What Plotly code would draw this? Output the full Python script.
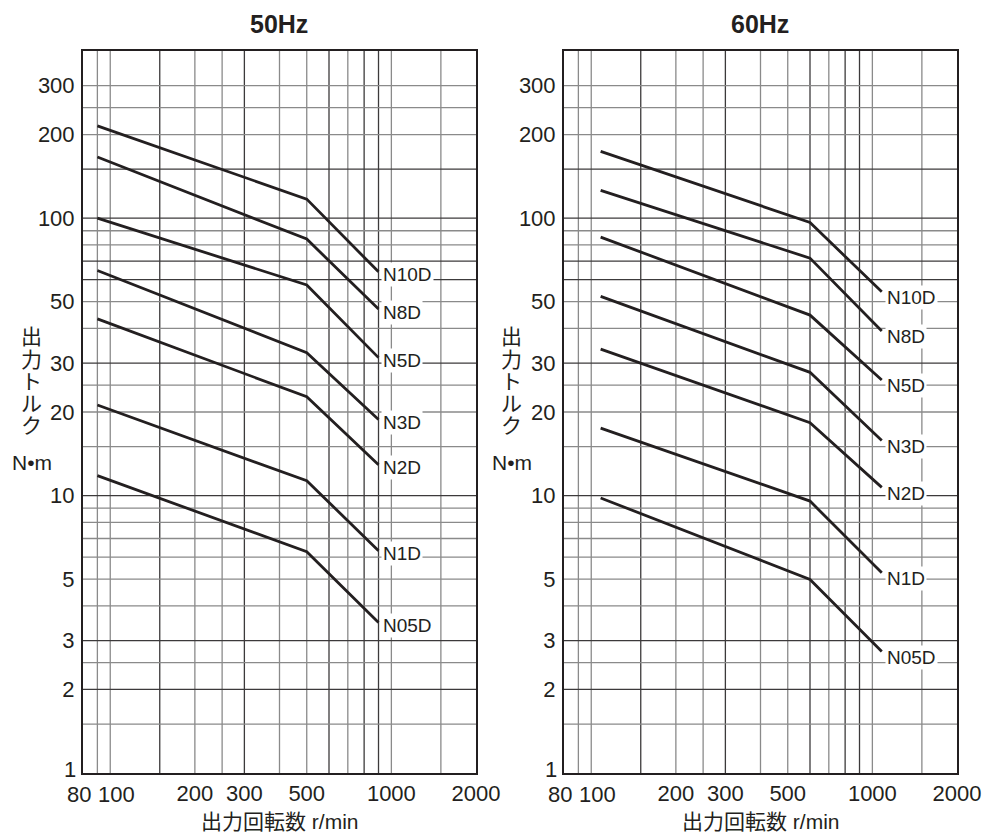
import math
import plotly.graph_objects as go

# ---------------- data ----------------
MODELS = ["N10D", "N8D", "N5D", "N3D", "N2D", "N1D", "N05D"]

SPEED_50HZ = [90, 500, 900]      # r/min
SPEED_60HZ = [108, 600, 1080]    # r/min

TORQUE_50HZ = [
    [215, 117, 64],
    [166, 84, 47],
    [100, 57.4, 31.4],
    [64.7, 32.7, 18.8],
    [43.3, 22.7, 12.9],
    [21.2, 11.3, 6.33],
    [11.8, 6.27, 3.49],
]
TORQUE_60HZ = [
    [174, 96.4, 54.2],
    [125.8, 71.7, 39.2],
    [85.4, 44.7, 26.1],
    [52.2, 27.8, 15.8],
    [33.7, 18.3, 10.7],
    [17.5, 9.55, 5.27],
    [9.8, 4.98, 2.74],
]

# axis tick labels (labels in the crowded lower-left corner are nudged, as in the original)
X_TICKS = [200, 300, 500, 1000, 2000]
X_TICK_TEXT = ["200", "300", "500", "1000", "2000"]
X_TICKS_NUDGED = [80, 100]
X_TICK_TEXT_NUDGED = ["80", "100"]
Y_TICKS = [2, 3, 5, 10, 20, 30, 50, 100, 200, 300]
Y_TICK_TEXT = ["2", "3", "5", "10", "20", "30", "50", "100", "200", "300"]
Y_TICK_NUDGED = 1
Y_TICK_TEXT_NUDGED = "1"

X_GRID = [90, 100, 150, 200, 250, 300, 400, 500, 600, 700, 800, 900, 1000, 1500]
X_GRID_DARK = [150, 300, 600, 800, 900]
Y_GRID = [1.5, 2, 2.5, 3, 4, 5, 6, 7, 8, 9, 10, 15, 20, 25, 30, 40, 50, 60, 70, 80,
          90, 100, 150, 200, 250, 300]
Y_GRID_DARK = [2, 3, 10, 30, 60, 70, 100, 150]

TITLES = ["50Hz", "60Hz"]
X_TITLE = "出力回転数 r/min"
Y_TITLE_CHARS = ["出", "力", "ト", "ル", "ク"]
Y_UNIT = "N•m"

# ---------------- style / layout ----------------
W, H = 982, 834
INK = "#231f20"
GRID_DARK = "#3c3a3b"
GRID_GRAY = "#8a8a8a"
FONT = "Liberation Sans, Arial, Noto Sans CJK JP, sans-serif"

PLOT_LEFT = [(83, 476), (564, 957)]
PLOT_TOP, PLOT_BOTTOM = 51, 773
NUDGE = [-4, 6]


def px_x(p):
    return p / W


def px_y(p):
    return 1 - p / H


fig = go.Figure()

panels = [
    ("x", "y", SPEED_50HZ, TORQUE_50HZ, -3, 2),
    ("x2", "y2", SPEED_60HZ, TORQUE_60HZ, -6, 3),
]

annotations = []
shapes = []

for i, (xr, yr, speeds, torques, ysh, xsh) in enumerate(panels):
    for name, vals in zip(MODELS, torques):
        fig.add_trace(go.Scatter(
            x=speeds, y=vals, mode="lines", name=name, xaxis=xr, yaxis=yr,
            line=dict(color=INK, width=2.8), showlegend=False,
            hoverinfo="x+y+name",
        ))
        annotations.append(dict(
            x=math.log10(speeds[-1]), y=math.log10(vals[-1]), xref=xr, yref=yr,
            text=name, showarrow=False, xanchor="left", yanchor="middle",
            xshift=xsh, yshift=ysh, bgcolor="white", borderpad=1,
            font=dict(family=FONT, size=19, color=INK),
        ))
    # nudged tick labels at the low end of the x axis
    for v, t, dx in zip(X_TICKS_NUDGED, X_TICK_TEXT_NUDGED, NUDGE):
        annotations.append(dict(
            x=math.log10(v), y=0, xref=xr, yref=f"{yr} domain", text=t,
            showarrow=False, xanchor="center", yanchor="top", xshift=dx, yshift=-7,
            font=dict(family=FONT, size=22, color=INK),
        ))
    # nudged lowest y tick label
    annotations.append(dict(
        x=0, y=math.log10(Y_TICK_NUDGED), xref=f"{xr} domain", yref=yr,
        text=Y_TICK_TEXT_NUDGED, showarrow=False, xanchor="right", yanchor="middle",
        xshift=-5, yshift=4, font=dict(family=FONT, size=22, color=INK),
    ))
    # grid lines
    for v in X_GRID:
        shapes.append(dict(
            type="line", xref=xr, yref=f"{yr} domain", x0=v, x1=v, y0=0, y1=1,
            line=dict(color=GRID_DARK if v in X_GRID_DARK else GRID_GRAY, width=1.3),
            layer="below",
        ))
    for v in Y_GRID:
        shapes.append(dict(
            type="line", xref=f"{xr} domain", yref=yr, x0=0, x1=1, y0=v, y1=v,
            line=dict(color=GRID_DARK if v in Y_GRID_DARK else GRID_GRAY, width=1.3),
            layer="below",
        ))
    left, right = PLOT_LEFT[i]
    cx = (left + right) / 2
    # panel title
    annotations.append(dict(
        x=px_x(cx - 1), y=px_y(23.5), xref="paper", yref="paper", text=f"<b>{TITLES[i]}</b>",
        showarrow=False, xanchor="center", yanchor="middle",
        font=dict(family=FONT, size=25, color=INK),
    ))
    # x title
    annotations.append(dict(
        x=px_x(cx), y=px_y(821), xref="paper", yref="paper", text=X_TITLE,
        showarrow=False, xanchor="center", yanchor="middle",
        font=dict(family=FONT, size=21, color=INK),
    ))
    # vertical y title
    ytx = 32 if i == 0 else 512
    for k, ch in enumerate(Y_TITLE_CHARS):
        annotations.append(dict(
            x=px_x(ytx), y=px_y(337 + 22 * k), xref="paper", yref="paper", text=ch,
            showarrow=False, xanchor="center", yanchor="middle",
            font=dict(family=FONT, size=21, color=INK),
        ))
    annotations.append(dict(
        x=px_x(ytx), y=px_y(462), xref="paper", yref="paper", text=Y_UNIT,
        showarrow=False, xanchor="center", yanchor="middle",
        font=dict(family=FONT, size=21, color=INK),
    ))

xaxis_common = dict(
    type="log", range=[math.log10(80), math.log10(2000)],
    tickvals=X_TICKS, ticktext=X_TICK_TEXT, showgrid=False, zeroline=False,
    showline=True, mirror=True, linecolor=INK, linewidth=2,
    ticks="", ticklabelstandoff=0, automargin=False, tickangle=0,
    tickfont=dict(family=FONT, size=22, color=INK),
)
yaxis_common = dict(
    type="log", range=[0, math.log10(400)],
    tickvals=Y_TICKS, ticktext=Y_TICK_TEXT, showgrid=False, zeroline=False,
    showline=True, mirror=True, linecolor=INK, linewidth=2,
    ticks="", ticklabelstandoff=2, automargin=False,
    tickfont=dict(family=FONT, size=22, color=INK),
    domain=[px_y(PLOT_BOTTOM), px_y(PLOT_TOP)],
)

fig.update_layout(
    width=W, height=H, template="none",
    margin=dict(l=0, r=0, t=0, b=0, pad=0),
    paper_bgcolor="white", plot_bgcolor="white",
    font=dict(family=FONT, color=INK),
    xaxis=dict(xaxis_common, domain=[px_x(83), px_x(476)], anchor="y"),
    yaxis=dict(yaxis_common, anchor="x"),
    xaxis2=dict(xaxis_common, domain=[px_x(564), px_x(957)], anchor="y2"),
    yaxis2=dict(yaxis_common, anchor="x2"),
    shapes=shapes,
    annotations=annotations,
    showlegend=False,
)

fig.write_html(
    "out.html",
    config={"displayModeBar": False},
    post_script="document.body.style.margin='0';document.body.style.padding='0';",
)
